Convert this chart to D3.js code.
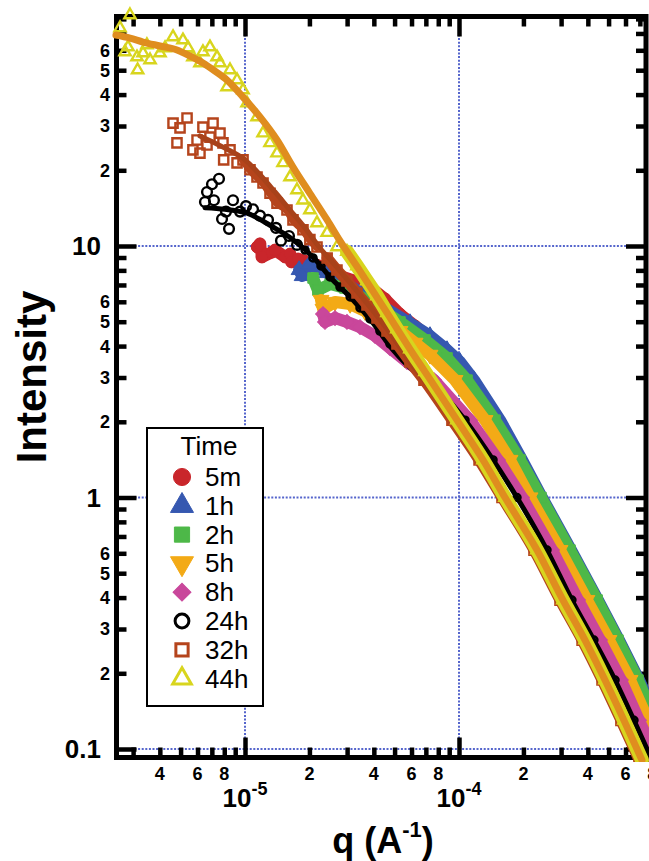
<!DOCTYPE html>
<meta charset="utf-8">
<script src="https://d3js.org/d3.v7.min.js"></script>
<style>
  body { margin: 0; background: #fff; }
  text { font-family: "Liberation Sans", Arial, sans-serif; }
</style>
<div id="chart"></div>
<script>
// ---- data: [q (A^-1), intensity] ----
var s5m = [[1.14e-5,9.91],[1.175e-5,10.2],[1.2e-5,9.04],[1.34e-5,9.46],[1.381e-5,9.64],[1.54e-5,9.04],[1.623e-5,9.29],[1.65e-5,8.64],[1.77e-5,8.88],[2.01e-5,8.64],[2.36e-5,8.18],[2.78e-5,7.6],[3.27e-5,7.26],[3.84e-5,6.87],[4.51e-5,6.16],[5.3e-5,5.36],[6.23e-5,4.81],[7.32e-5,4.31],[8.79e-5,3.62],[1.078e-4,2.93],[1.505e-4,2.03],[1.866e-4,1.41],[2.29e-4,1.0],[3.16e-4,0.618],[4.18e-4,0.391],[5.24e-4,0.271],[6.5e-4,0.188],[7.81e-4,0.130]];
var s1h = [[1.79e-5,8.03],[1.85e-5,7.6],[2.01e-5,8.48],[2.42e-5,7.81],[3.1e-5,6.93],[4.27e-5,5.83],[5.9e-5,4.94],[7.32e-5,4.39],[8.79e-5,3.86],[1.011e-4,3.46],[1.175e-4,2.93],[1.555e-4,2.03],[1.97e-4,1.41],[2.443e-4,1.0],[3.34e-4,0.618],[4.46e-4,0.391],[5.59e-4,0.271],[6.94e-4,0.188],[8.42e-4,0.130]];
var s2h = [[2.08e-5,7.46],[2.19e-5,6.68],[2.5e-5,7.06],[2.93e-5,6.81],[3.84e-5,5.99],[5.3e-5,4.99],[6.94e-5,4.23],[8.79e-5,3.59],[1.09e-4,2.93],[1.473e-4,2.03],[1.928e-4,1.41],[2.416e-4,1.0],[3.3e-4,0.618],[4.42e-4,0.391],[5.53e-4,0.271],[6.86e-4,0.188],[8.24e-4,0.130]];
var s5h = [[2.265e-5,6.10],[2.315e-5,5.62],[2.634e-5,5.99],[3.1e-5,5.88],[3.636e-5,5.51],[4.27e-5,5.08],[5.3e-5,4.59],[6.23e-5,4.12],[7.32e-5,3.69],[9.58e-5,2.93],[1.323e-4,2.03],[1.731e-4,1.41],[2.147e-4,1.0],[2.965e-4,0.618],[3.96e-4,0.391],[5.02e-4,0.271],[6.3e-4,0.188],[7.64e-4,0.130],[9.37e-4,0.0904]];
var s8h = [[2.315e-5,5.36],[2.365e-5,4.99],[2.634e-5,5.17],[2.996e-5,4.99],[3.447e-5,4.76],[4.05e-5,4.39],[4.76e-5,3.93],[5.71e-5,3.46],[7.64e-5,2.93],[1.126e-4,2.03],[1.521e-4,1.41],[1.97e-4,1.0],[2.72e-4,0.618],[3.6e-4,0.391],[4.56e-4,0.271],[5.71e-4,0.188],[6.94e-4,0.130],[8.42e-4,0.0904]];

var s24hLow = [[6.5e-6,14.96],[6.645e-6,16.4],[7.01e-6,17.6],[7.16e-6,15.2],[7.56e-6,18.5],[7.81e-6,12.8],[8.15e-6,13.7],[8.42e-6,11.7],[8.79e-6,15.2],[9.48e-6,13.7],[1.011e-5,14.4],[1.09e-5,14.0],[1.175e-5,13.2],[1.281e-5,12.7],[1.396e-5,11.8],[1.473e-5,10.5],[1.605e-5,10.96],[1.75e-5,10.1]];
var s24hHigh = [[1.908e-5,9.64],[2.079e-5,8.96],[2.265e-5,8.33],[2.495e-5,7.53],[2.78e-5,6.87],[3.1e-5,6.27],[3.447e-5,5.67],[3.838e-5,5.13],[4.27e-5,4.59],[4.76e-5,4.08],[5.3e-5,3.75],[6.03e-5,3.33],[7.16e-5,2.93],[1.067e-4,2.03],[1.442e-4,1.41],[1.866e-4,1.0],[2.577e-4,0.618],[3.37e-4,0.391],[4.27e-4,0.271],[5.36e-4,0.188],[6.57e-4,0.130],[7.97e-4,0.0904]];
var fit24h = [[6.5e-6,14.2],[8.06e-6,14.0],[1.022e-5,13.5],[1.351e-5,11.9],[1.676e-5,10.6],[2.079e-5,9.04],[2.495e-5,7.53],[3.197e-5,6.10],[3.963e-5,4.94],[4.915e-5,3.86],[6.1e-5,3.21],[7.16e-5,2.93],[1.067e-4,2.03],[1.442e-4,1.41],[1.866e-4,1.0],[2.577e-4,0.618],[3.37e-4,0.391],[4.27e-4,0.271],[5.36e-4,0.188],[6.57e-4,0.130],[7.97e-4,0.0904]];

var s32hLow = [[4.61e-6,30.8],[4.81e-6,25.7],[4.97e-6,29.5],[5.36e-6,32.3],[5.71e-6,24.1],[5.97e-6,26.4],[6.16e-6,23.4],[6.36e-6,29.7],[6.645e-6,25.2],[6.86e-6,27.1],[7.09e-6,30.8],[7.64e-6,28.1],[7.89e-6,25.7],[7.95e-6,22.0],[8.51e-6,24.1],[9.18e-6,21.4],[9.79e-6,22.0],[1.055e-5,20.1],[1.138e-5,18.8],[1.214e-5,17.8],[1.309e-5,16.2],[1.411e-5,14.8],[1.571e-5,13.9],[1.676e-5,12.7],[1.866e-5,11.6],[2.01e-5,10.6],[2.17e-5,9.91]];
var s32hHigh = [[2.42e-5,8.96],[2.69e-5,8.03],[2.996e-5,7.26],[3.338e-5,6.50],[3.716e-5,5.83],[4.14e-5,5.17],[4.61e-5,4.59],[5.13e-5,4.08],[5.9e-5,3.46],[6.86e-5,2.93],[9.27e-5,2.03],[1.241e-4,1.41],[1.588e-4,1.0],[2.241e-4,0.618],[2.965e-4,0.391],[3.76e-4,0.271],[4.66e-4,0.188],[5.71e-4,0.130],[6.94e-4,0.0904]];
var fit32h = [[6.16e-6,27.4],[8.06e-6,24.5],[1.0e-5,22.0],[1.175e-5,19.2],[1.381e-5,16.4],[1.623e-5,13.9],[1.908e-5,11.8],[2.241e-5,9.82],[2.634e-5,8.40],[3.1e-5,7.13],[3.838e-5,5.72],[4.76e-5,4.51],[5.9e-5,3.46],[6.86e-5,2.93],[9.27e-5,2.03],[1.241e-4,1.41],[1.588e-4,1.0],[2.241e-4,0.618],[2.965e-4,0.391],[3.76e-4,0.271],[4.66e-4,0.188],[5.71e-4,0.130],[6.94e-4,0.0904]];

var s44hLow = [[2.606e-6,73.6],[2.749e-6,59.1],[2.84e-6,61.8],[2.9e-6,82.9],[3.128e-6,56.4],[3.15e-6,50.1],[3.338e-6,58.5],[3.48e-6,63.0],[3.6e-6,54.9],[4.006e-6,58.5],[4.23e-6,61.3],[4.61e-6,67.8],[5.13e-6,65.9],[5.42e-6,61.3],[5.71e-6,56.4],[6.16e-6,53.4],[6.36e-6,59.1],[6.86e-6,61.8],[7.4e-6,56.4],[7.64e-6,53.4],[8.24e-6,42.9],[8.51e-6,50.1],[9.18e-6,45.7],[9.79e-6,41.7],[1.022e-5,37.0],[1.138e-5,32.6],[1.214e-5,28.1],[1.309e-5,25.7],[1.411e-5,23.4],[1.505e-5,21.4],[1.623e-5,18.8],[1.75e-5,16.7],[1.866e-5,15.2],[2.01e-5,13.9],[2.17e-5,12.35],[2.42e-5,11.3],[2.69e-5,9.91]];
var s44hHigh = [[2.996e-5,9.5],[3.338e-5,8.33],[3.716e-5,7.26],[4.14e-5,6.33],[4.61e-5,5.42],[5.13e-5,4.68],[5.9e-5,3.89],[6.94e-5,3.16],[9.79e-5,2.03],[1.295e-4,1.41],[1.641e-4,1.0],[2.315e-4,0.618],[3.06e-4,0.391],[3.88e-4,0.271],[4.81e-4,0.188],[5.9e-4,0.130],[7.16e-4,0.0904]];
var fit44h = [[2.495e-6,69.0],[2.9e-6,67.1],[3.338e-6,64.7],[4.006e-6,62.4],[4.81e-6,60.2],[5.53e-6,56.9],[6.36e-6,53.4],[7.24e-6,49.6],[8.24e-6,45.7],[9.79e-6,39.1],[1.175e-5,32.6],[1.411e-5,26.4],[1.676e-5,20.6],[2.01e-5,16.2],[2.42e-5,12.7],[2.78e-5,10.47],[3.447e-5,7.95],[4.61e-5,5.42],[5.9e-5,3.89],[6.94e-5,3.16],[9.79e-5,2.03],[1.295e-4,1.41],[1.641e-4,1.0],[2.315e-4,0.618],[3.06e-4,0.391],[3.88e-4,0.271],[4.81e-4,0.188],[5.9e-4,0.130],[7.16e-4,0.0904]];

// legend categories
var times = ["5m", "1h", "2h", "5h", "8h", "24h", "32h", "44h"];

// ticks
var xMajor = [1e-5, 1e-4];
var xMinor = [3e-6,4e-6,5e-6,6e-6,7e-6,8e-6,9e-6,2e-5,3e-5,4e-5,5e-5,6e-5,7e-5,8e-5,9e-5,2e-4,3e-4,4e-4,5e-4,6e-4,7e-4];
var xMinorLabels = [4e-6,6e-6,8e-6,2e-5,4e-5,6e-5,8e-5,2e-4,4e-4,6e-4,8e-4];
var xMajorLabels = ["-5", "-4"];
var yMajor = [0.1, 1, 10];
var yMajorLabels = ["0.1", "1", "10"];
var yMinor = [0.2,0.3,0.4,0.5,0.6,0.7,0.8,0.9,2,3,4,5,6,7,8,9,20,30,40,50,60,70,80];
var yMinorLabels = [0.2,0.3,0.4,0.5,0.6,2,3,4,5,6,20,30,40,50,60];

// ---- layout ----
var W = 649, H = 861;
var frame = {left: 116.5, right: 646, top: 16.5, bottom: 757.5};
var gridColor = "#5565cc";

var x = d3.scaleLog().domain([1e-5, 1e-4]).range([245, 459]);
var y = d3.scaleLog().domain([0.1, 10]).range([749, 246]);

var svg = d3.select("#chart").append("svg")
    .attr("width", W)
    .attr("height", H);

svg.append("defs").append("clipPath").attr("id", "clip")
  .append("rect").attr("x", 110).attr("y", 4).attr("width", W - 110).attr("height", 758);

// dotted grid
svg.append("g").selectAll("line").data(xMajor).join("line")
    .attr("x1", function(d) { return x(d); }).attr("x2", function(d) { return x(d); })
    .attr("y1", frame.top).attr("y2", frame.bottom)
    .attr("stroke", gridColor).attr("stroke-width", 2).attr("stroke-dasharray", "2,1.6");
svg.append("g").selectAll("line").data(yMajor).join("line")
    .attr("y1", function(d) { return y(d); }).attr("y2", function(d) { return y(d); })
    .attr("x1", frame.left).attr("x2", frame.right)
    .attr("stroke", gridColor).attr("stroke-width", 2).attr("stroke-dasharray", "2,1.6");

// frame
svg.append("rect")
    .attr("x", frame.left).attr("y", frame.top)
    .attr("width", frame.right - frame.left).attr("height", frame.bottom - frame.top)
    .attr("fill", "none").attr("stroke", "#000").attr("stroke-width", 5);

// inward ticks on all four sides
function ticks(axis, values, size, tx, ty) {
  var g = svg.append("g")
      .attr("transform", "translate(" + tx + "," + ty + ")")
      .call(axis.tickValues(values).tickSize(-size).tickSizeOuter(0).tickFormat(""));
  g.select(".domain").remove();
  g.selectAll(".tick line").attr("stroke", "#000").attr("stroke-width", 4.5);
}
ticks(d3.axisBottom(x), xMinor, 10, 0, frame.bottom);
ticks(d3.axisBottom(x), xMajor, 20, 0, frame.bottom);
ticks(d3.axisTop(x), xMinor, 10, 0, frame.top);
ticks(d3.axisTop(x), xMajor, 20, 0, frame.top);
ticks(d3.axisLeft(y), yMinor, 10, frame.left, 0);
ticks(d3.axisLeft(y), yMajor, 20, frame.left, 0);
ticks(d3.axisRight(y), yMinor, 10, frame.right, 0);
ticks(d3.axisRight(y), yMajor, 20, frame.right, 0);

function leading(d) { return Math.round(d / Math.pow(10, Math.floor(Math.log10(d) + 1e-9))); }

// tick labels
svg.append("g").selectAll("text").data(yMinorLabels).join("text")
    .attr("x", 110).attr("y", function(d) { return y(d); }).attr("dy", "0.36em")
    .attr("text-anchor", "end").attr("font-size", 18).attr("font-weight", "bold")
    .text(leading);
svg.append("g").selectAll("text").data(yMajor).join("text")
    .attr("x", 101).attr("y", function(d) { return y(d); }).attr("dy", "0.36em")
    .attr("text-anchor", "end").attr("font-size", 26).attr("font-weight", "bold")
    .text(function(d, i) { return yMajorLabels[i]; });
svg.append("g").selectAll("text").data(xMinorLabels).join("text")
    .attr("x", function(d) { return x(d); }).attr("y", 780)
    .attr("text-anchor", "middle").attr("font-size", 18).attr("font-weight", "bold")
    .text(leading);
var xm = svg.append("g").selectAll("text").data(xMajor).join("text")
    .attr("x", function(d) { return x(d); }).attr("y", 807)
    .attr("text-anchor", "middle").attr("font-weight", "bold");
xm.append("tspan").attr("font-size", 26).text("10");
xm.append("tspan").attr("font-size", 18).attr("dy", -12).text(function(d, i) { return xMajorLabels[i]; });

// axis titles
var xt = svg.append("text").attr("x", 383).attr("y", 853)
    .attr("text-anchor", "middle").attr("font-size", 36).attr("font-weight", "bold");
xt.append("tspan").text("q (A");
xt.append("tspan").attr("font-size", 22).attr("dy", -16).text("-1");
xt.append("tspan").attr("dy", 16).text(")");
svg.append("text")
    .attr("transform", "translate(46,377) rotate(-90)")
    .attr("text-anchor", "middle").attr("font-size", 42).attr("font-weight", "bold")
    .text("Intensity");

// ---- data marks ----
var styles = {
  "5m":  {color: "#c9262b", shape: "circle",   filled: true},
  "1h":  {color: "#3658b0", shape: "triangle", filled: true},
  "2h":  {color: "#4db848", shape: "square",   filled: true},
  "5h":  {color: "#f3aa16", shape: "down",     filled: true},
  "8h":  {color: "#c9479b", shape: "diamond",  filled: true},
  "24h": {color: "#000000", shape: "circle",   filled: false},
  "32h": {color: "#b5441c", shape: "square",   filled: false},
  "44h": {color: "#d8d51e", shape: "triangle", filled: false}
};
var symTypes = {circle: d3.symbolCircle, triangle: d3.symbolTriangle, square: d3.symbolSquare,
                down: d3.symbolTriangle, diamond: d3.symbolSquare};
var symRotate = {circle: 0, triangle: 0, square: 0, down: 180, diamond: 45};

var line = d3.line()
    .x(function(d) { return x(d[0]); })
    .y(function(d) { return y(d[1]); });
var smooth = d3.line()
    .x(function(d) { return x(d[0]); })
    .y(function(d) { return y(d[1]); })
    .curve(d3.curveMonotoneX);

var plot = svg.append("g").attr("clip-path", "url(#clip)");

function trace(data, color, width, curved) {
  plot.append("path").datum(data)
      .attr("d", curved ? smooth : line)
      .attr("fill", "none").attr("stroke", color).attr("stroke-width", width)
      .attr("stroke-linejoin", "round").attr("stroke-linecap", "round");
}
function markers(data, key, size) {
  var st = styles[key];
  plot.append("g").selectAll("path").data(data).join("path")
      .attr("transform", function(d) {
        return "translate(" + x(d[0]) + "," + y(d[1]) + ") rotate(" + symRotate[st.shape] + ")";
      })
      .attr("d", d3.symbol().type(symTypes[st.shape]).size(size))
      .attr("fill", st.filled ? st.color : "none")
      .attr("stroke", st.color)
      .attr("stroke-width", st.filled ? 1 : 2.4);
}
function fit(data, color, width) {
  plot.append("path").datum(data)
      .attr("d", smooth)
      .attr("fill", "none").attr("stroke", color).attr("stroke-width", width)
      .attr("stroke-linecap", "round");
}

var filled = [["5m", s5m], ["1h", s1h], ["2h", s2h], ["5h", s5h], ["8h", s8h]];
filled.forEach(function(s) {
  trace(s[1], styles[s[0]].color, 12, false);
  markers(s[1], s[0], 110);
});

markers(s24hLow, "24h", 75);
trace(s24hHigh, "#000", 3, true);
markers(s24hHigh, "24h", 40);
fit(fit24h, "#000", 5);

markers(s32hLow, "32h", 85);
trace(s32hLow.slice(16), styles["32h"].color, 8, true);
trace(s32hHigh, styles["32h"].color, 11, true);
markers(s32hHigh, "32h", 85);
fit(fit32h, "#a8421a", 5);

markers(s44hLow, "44h", 55);
trace(s44hHigh, styles["44h"].color, 14, true);
markers(s44hHigh, "44h", 55);
fit(fit44h, "#df8d1f", 7);

// ---- legend ----
var lg = svg.append("g");
lg.append("rect").attr("x", 147).attr("y", 428).attr("width", 116).attr("height", 278)
    .attr("fill", "#fff").attr("stroke", "#000").attr("stroke-width", 2);
lg.append("text").attr("x", 209).attr("y", 455).attr("text-anchor", "middle")
    .attr("font-size", 26).text("Time");
var rows = lg.selectAll("g.row").data(times).join("g")
    .attr("class", "row")
    .attr("transform", function(d, i) { return "translate(0," + (477 + i * 28.8) + ")"; });
rows.append("path")
    .attr("transform", function(d) { return "translate(182,0) rotate(" + symRotate[styles[d].shape] + ")"; })
    .attr("d", function(d) {
      var st = styles[d];
      var size = st.filled ? (st.shape === "diamond" ? 160 : 230) : 150;
      return d3.symbol().type(symTypes[st.shape]).size(size)();
    })
    .attr("fill", function(d) { return styles[d].filled ? styles[d].color : "none"; })
    .attr("stroke", function(d) { return styles[d].color; })
    .attr("stroke-width", function(d) { return styles[d].filled ? 1 : 3; });
rows.append("text").attr("x", 205).attr("y", 9).attr("font-size", 26)
    .text(function(d) { return d; });
</script>
